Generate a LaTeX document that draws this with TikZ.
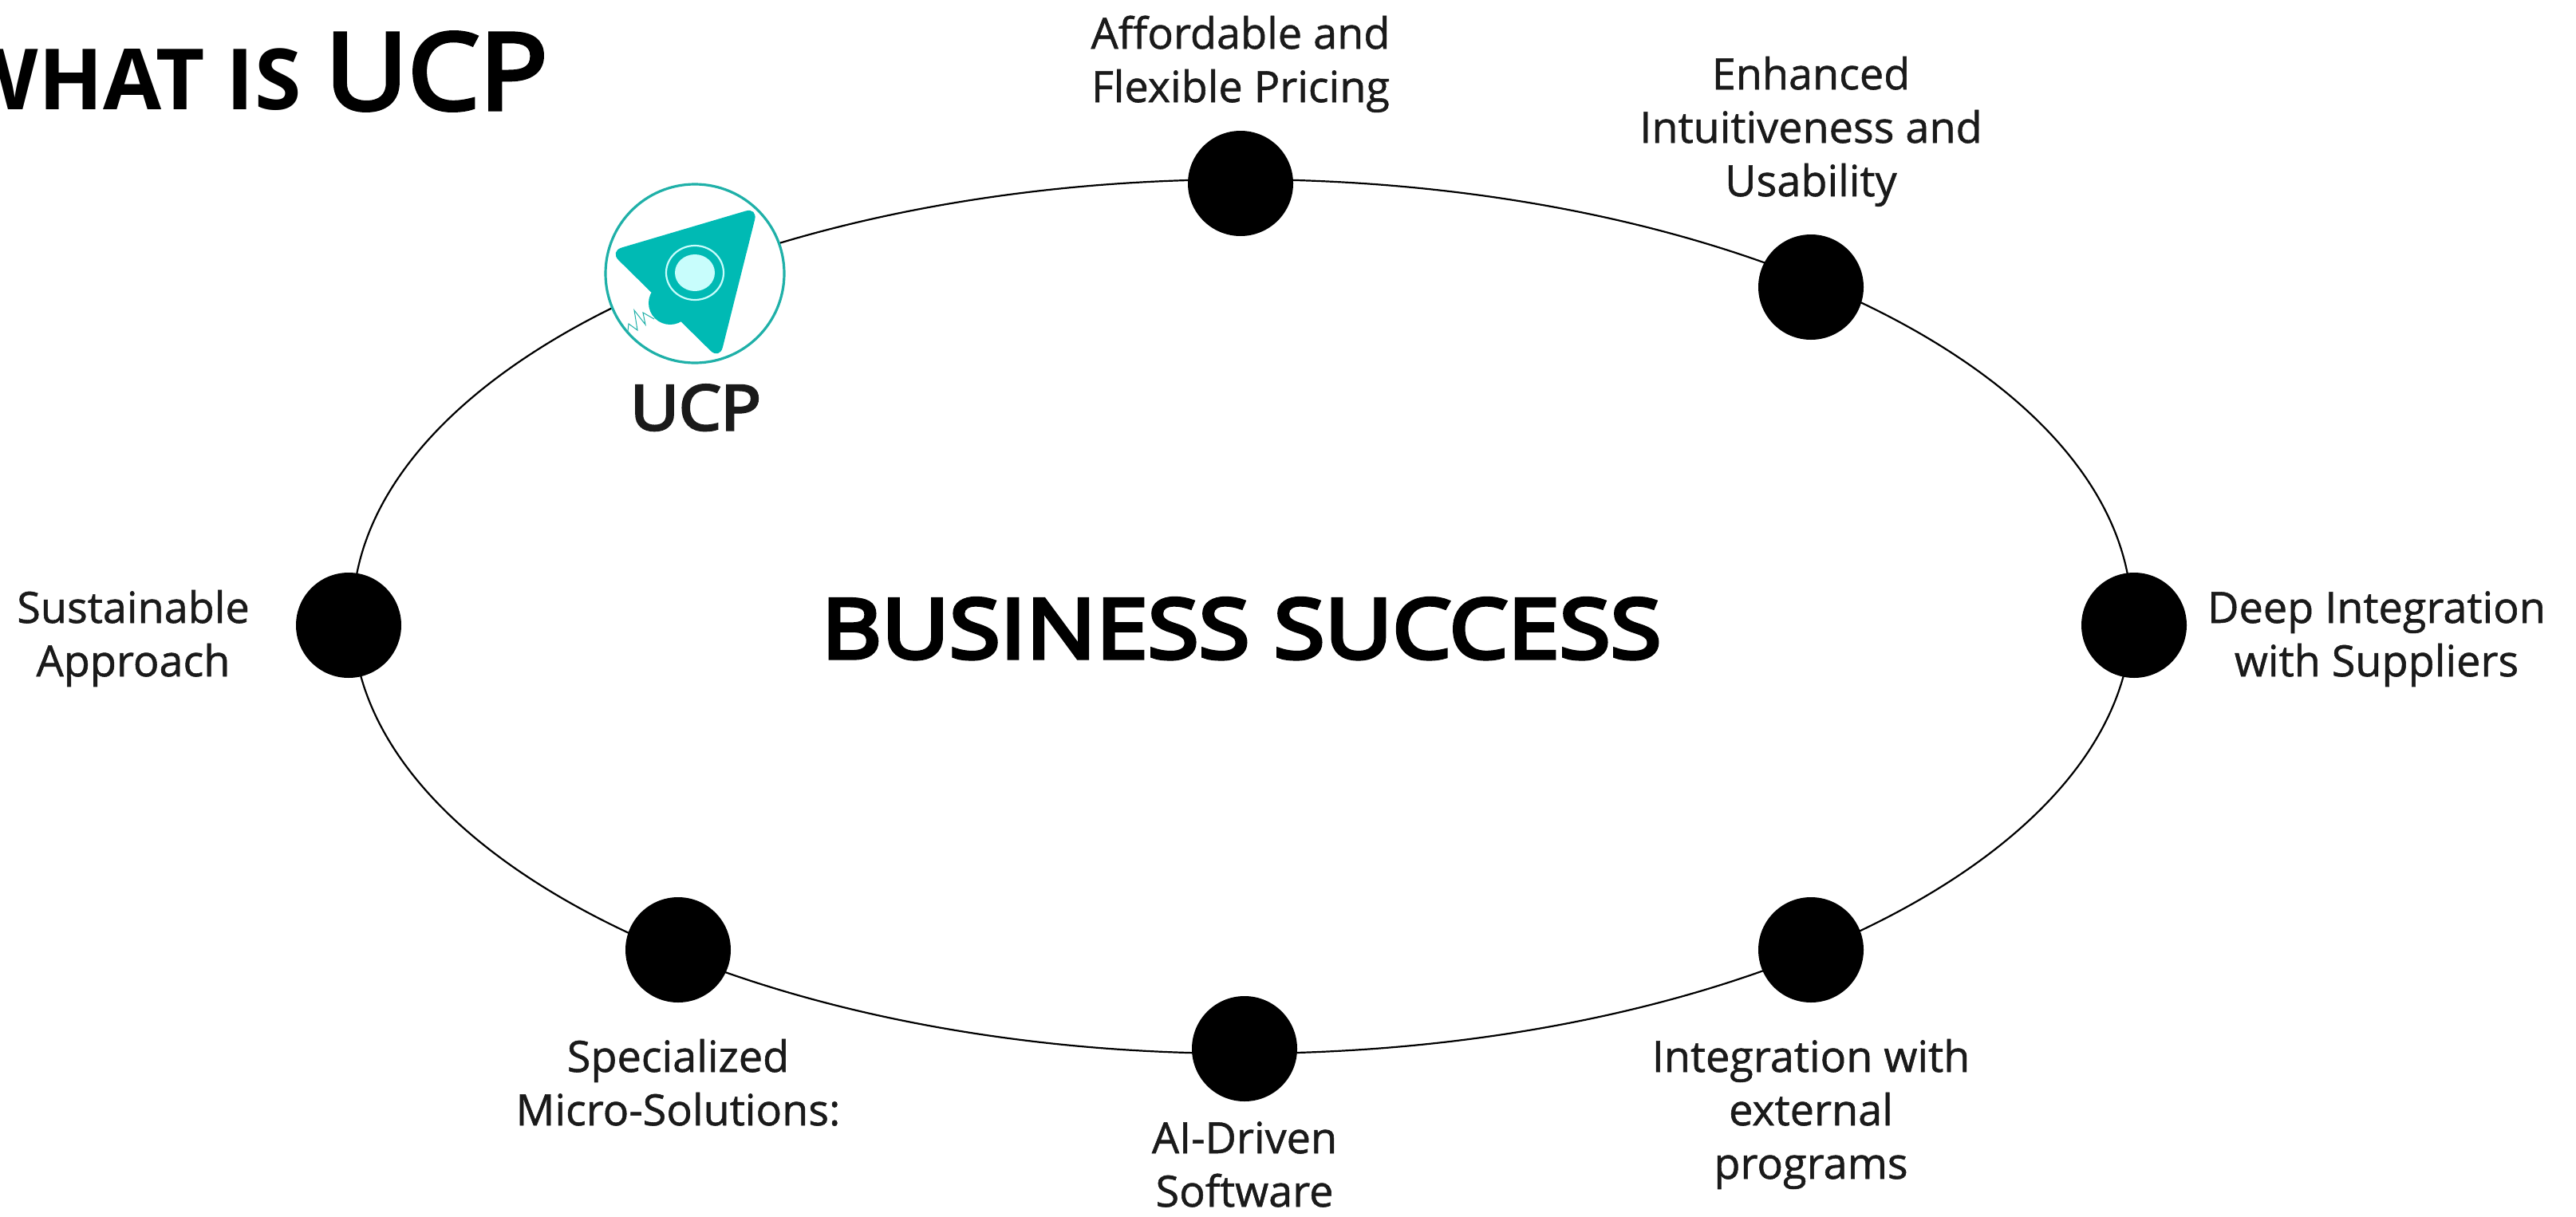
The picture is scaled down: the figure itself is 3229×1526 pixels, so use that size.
\documentclass[tikz,border=0pt]{standalone}
\usepackage{fontspec}
\setmainfont{Open Sans}
\newfontfamily\labelfamily[FakeBold=1]{Open Sans}
\newfontfamily\headfont[FakeStretch=1.13,FakeBold=5]{Open Sans}
\newfontfamily\ucpfont[FakeStretch=1.07,FakeBold=4]{Open Sans}
\definecolor{ucpteal}{HTML}{00BAB4}
\definecolor{ucpring}{HTML}{1FB0A8}
\definecolor{ucpglow}{HTML}{C8FDFC}
\definecolor{labelink}{HTML}{1A1A1A}
\newcommand{\labelfont}{\labelfamily\fontsize{27}{33.5}\selectfont}
\begin{document}
\begin{tikzpicture}[
    x=0.5pt, y=-0.5pt,
    dotnode/.style={circle, fill=black, inner sep=0pt, minimum size=66pt},
    labelnode/.style={anchor=base, inner sep=0pt, align=center, text=labelink, font=\labelfont},
    ringline/.style={draw=black, line width=1.1pt}
]
\useasboundingbox (0,0) rectangle (3229,1526);

% Ring
\coordinate (centre) at (1557,773);
\draw[ringline] (centre) ellipse [x radius=1115, y radius=548];

% Dots
\node[dotnode] (pricing) at (1555,230) {};
\node[dotnode] (usability) at (2270,360) {};
\node[dotnode] (suppliers) at (2675,784) {};
\node[dotnode] (external) at (2270,1191) {};
\node[dotnode] (software) at (1560,1315) {};
\node[dotnode] (micro) at (850,1191) {};
\node[dotnode] (approach) at (437,784) {};

% Labels
\node[labelnode] (pricinglabel) at (1555,128) {Affordable and\\Flexible Pricing};
\node[labelnode] (usabilitylabel) at (2270,246) {Enhanced\\Intuitiveness and\\Usability};
\node[labelnode] (supplierslabel) at (2979,848) {Deep Integration\\with Suppliers};
\node[labelnode] (externallabel) at (2270,1478) {Integration with\\external\\programs};
\node[labelnode] (softwarelabel) at (1560,1513) {AI-Driven\\Software};
\node[labelnode] (microlabel) at (850,1411) {Specialized\\Micro-Solutions:};
\node[labelnode] (approachlabel) at (167,848) {Sustainable\\Approach};

% Centre text and title
\node[anchor=base, inner sep=0pt, font=\headfont\fontsize{51.5}{60}\selectfont] (success) at (1556,825) {BUSINESS SUCCESS};
\node[anchor=base east, inner sep=0pt] (title) at (687,137) {{\fontsize{53}{60}\selectfont\bfseries WHAT IS}\hspace{15pt}{\ucpfont\fontsize{66.5}{70}\selectfont UCP}};

% Logo
\draw[ucpring, line width=1.6pt, fill=white] (871,343) circle [radius=112];
\fill[ucpteal, rounded corners=8pt] (764,315) -- (950,260) -- (902,451) -- cycle;
\fill[ucpteal] (840,380) circle [radius=27];
\draw[ucpglow, line width=1.1pt] (871,342) ellipse [x radius=36, y radius=34];
\fill[ucpglow] (871,342) ellipse [x radius=25, y radius=23];
\draw[ucpring, line width=0.5pt] (787,415) -- (788,406) -- (799,414) -- (795,389) -- (809,407) -- (806,392) -- (820,400);
\node[anchor=base, inner sep=0pt, text=labelink, font=\ucpfont\fontsize{39}{45}\selectfont] (ucp) at (872,539) {UCP};

\end{tikzpicture}
\end{document}
